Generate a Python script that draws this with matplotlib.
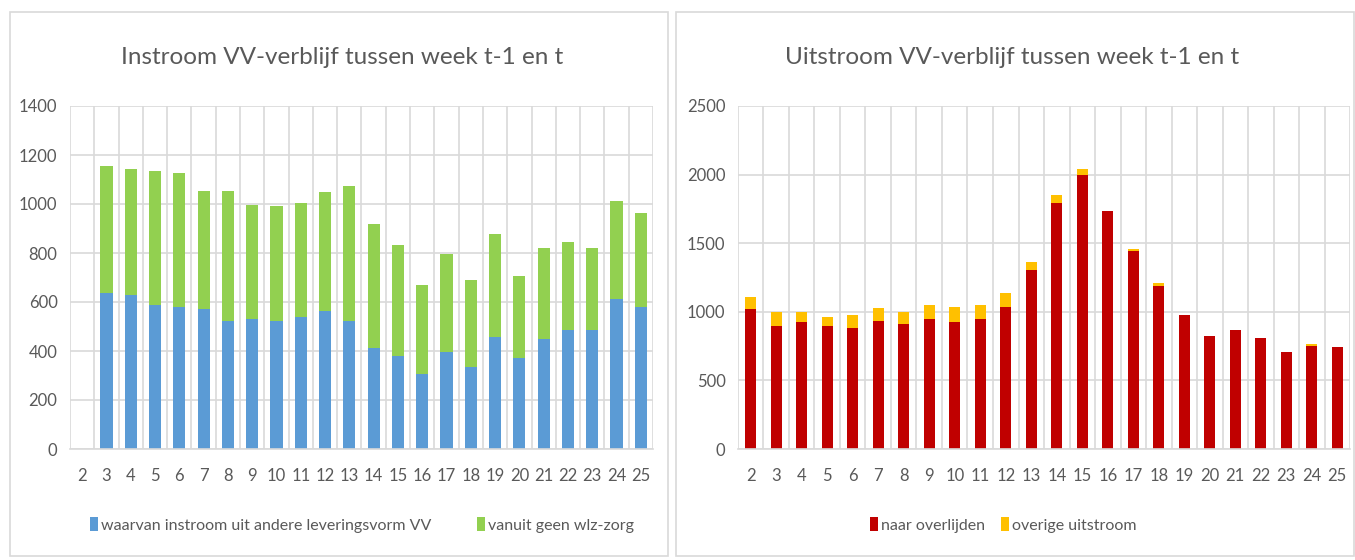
import numpy as np
import matplotlib
matplotlib.use("Agg")
import matplotlib.pyplot as plt
from matplotlib.patches import Rectangle

plt.rcParams['font.family'] = ['Lato', 'DejaVu Sans']

weeks = [str(w) for w in range(2, 26)]

# Instroom (left)
instroom_vv = [np.nan, 635, 627, 587, 579, 571, 522, 532, 522, 540, 563, 522,
               413, 379, 307, 395, 334, 459, 372, 451, 485, 485, 611, 579]
instroom_total = [np.nan, 1156, 1141, 1134, 1125, 1054, 1054, 996, 990, 1005, 1047, 1074,
                  917, 831, 668, 797, 691, 879, 706, 819, 845, 819, 1013, 965]
instroom_geen = [t - v for t, v in zip(instroom_total, instroom_vv)]

# Uitstroom (right)
overlijden = [1020, 893, 923, 893, 881, 935, 908, 949, 923, 949, 1035, 1302,
              1790, 1994, 1738, 1443, 1190, 974, 820, 869, 811, 706, 750, 740]
uit_total = [1105, 998, 998, 964, 974, 1025, 996, 1052, 1037, 1052, 1139, 1361,
             1853, 2040, 1738, 1461, 1210, 974, 820, 869, 811, 706, 767, 740]
overige = [t - o for t, o in zip(uit_total, overlijden)]

W, H = 1355, 560
fig = plt.figure(figsize=(W / 100, H / 100), dpi=100)
fig.patch.set_facecolor('white')

def fx(px):
    return px / W

def fy(py):
    return 1 - py / H

# panel borders
for (x0, x1) in [(10, 668), (676, 1354)]:
    fig.patches.append(Rectangle((fx(x0), fy(556)), fx(x1 - x0), (556 - 12) / H,
                                 transform=fig.transFigure, fill=False,
                                 edgecolor='#D9D9D9', linewidth=1.2))

grid_c = '#D9D9D9'
tick_c = '#595959'

def style(ax, ymax, ystep):
    ax.set_xlim(-0.5, len(weeks) - 0.5)
    ax.set_ylim(0, ymax)
    ax.set_yticks(np.arange(0, ymax + 1, ystep))
    ax.set_xticks(np.arange(len(weeks)))
    ax.set_xticklabels(weeks)
    ax.set_xticks(np.arange(-0.5, len(weeks), 1), minor=True)
    ax.grid(axis='y', which='major', color=grid_c, linewidth=1.2)
    ax.grid(axis='x', which='minor', color=grid_c, linewidth=1.2)
    ax.grid(axis='x', which='major', visible=False)
    ax.set_axisbelow(True)
    for s in ['top', 'right', 'left']:
        ax.spines[s].set_visible(False)
    ax.spines['bottom'].set_color(grid_c)
    ax.spines['bottom'].set_linewidth(1.2)
    ax.tick_params(axis='both', which='both', length=0, colors=tick_c, labelsize=12)
    ax.tick_params(axis='x', pad=14)
    ax.tick_params(axis='y', pad=9)

x = np.arange(len(weeks))

# Left axes
axL = fig.add_axes([fx(70), fy(449), fx(653 - 70), (449 - 106) / H])
axL.bar(x, instroom_vv, width=0.5, color='#5B9BD5', label='waarvan instroom uit andere leveringsvorm VV')
axL.bar(x, instroom_geen, width=0.5, bottom=instroom_vv, color='#92D050', label='vanuit geen wlz-zorg')
style(axL, 1400, 200)
fig.text(fx(342), fy(57), 'Instroom VV-verblijf tussen week t-1 en t', ha='center', va='center',
         fontsize=17.5, color='#595959')
axL.legend(loc='center', bbox_to_anchor=(fx(362), fy(525)), bbox_transform=fig.transFigure,
           ncol=2, frameon=False, fontsize=11.5, handlelength=0.5, handleheight=0.9,
           handletextpad=0.2, columnspacing=2.8, labelcolor=tick_c)

# Right axes
axR = fig.add_axes([fx(738), fy(449), fx(1350 - 738), (449 - 106) / H])
axR.bar(x, overlijden, width=0.45, color='#C00000', label='naar overlijden')
axR.bar(x, overige, width=0.45, bottom=overlijden, color='#FFC000', label='overige uitstroom')
style(axR, 2500, 500)
fig.text(fx(1012), fy(57), 'Uitstroom VV-verblijf tussen week t-1 en t', ha='center', va='center',
         fontsize=17.5, color='#595959')
axR.legend(loc='center', bbox_to_anchor=(fx(1003), fy(525)), bbox_transform=fig.transFigure,
           ncol=2, frameon=False, fontsize=11.5, handlelength=0.5, handleheight=0.9,
           handletextpad=0.2, columnspacing=1.0, labelcolor=tick_c)

fig.savefig('out.png', dpi=100, facecolor='white')
